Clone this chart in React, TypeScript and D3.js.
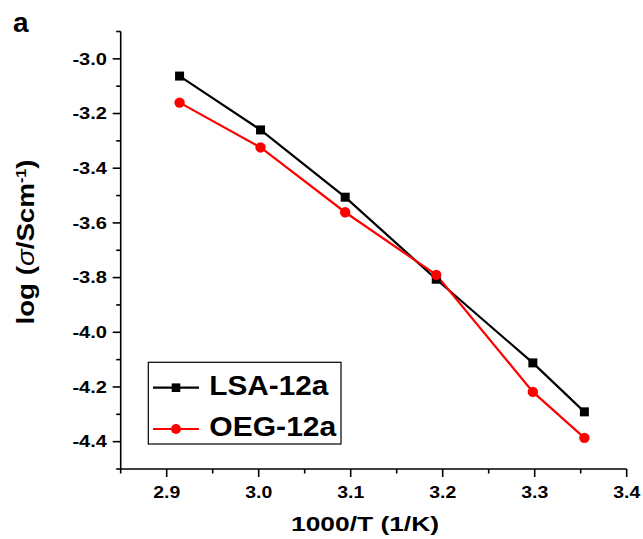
import React from "react";
import * as d3 from "d3";

const invT = [2.914, 3.002, 3.094, 3.193, 3.298, 3.354];
const lsa = [-3.063, -3.26, -3.506, -3.806, -4.112, -4.291];
const oeg = [-3.16, -3.324, -3.561, -3.79, -4.218, -4.386];
const xMajor = [2.9, 3.0, 3.1, 3.2, 3.3, 3.4];
const xMinor = [2.85, 2.95, 3.05, 3.15, 3.25, 3.35];
const yMajor = [-3.0, -3.2, -3.4, -3.6, -3.8, -4.0, -4.2, -4.4];
const yMinor = [-2.9, -3.1, -3.3, -3.5, -3.7, -3.9, -4.1, -4.3, -4.5];
const seriesNames = ["LSA-12a", "OEG-12a"];

const FONT = "'Liberation Sans', Arial, Helvetica, sans-serif";

export default function App() {
  const W = 643, H = 539;
  const x = d3.scaleLinear().domain([2.85, 3.4]).range([120.7, 626.7]);
  const y = d3.scaleLinear().domain([-4.5, -2.9]).range([469, 31.5]);
  const line = d3
    .line<[number, number]>()
    .x((d) => x(d[0]))
    .y((d) => y(d[1]));
  const lsaPts: [number, number][] = invT.map((t, i) => [t, lsa[i]]);
  const oegPts: [number, number][] = invT.map((t, i) => [t, oeg[i]]);
  const x0 = x(2.85);
  const yB = y(-4.5);

  return (
    <svg
      width={W}
      height={H}
      style={{ position: "fixed", left: 0, top: 0, background: "#fff" }}
      fontFamily={FONT}
    >
      <rect x={0} y={0} width={W} height={H} fill="#fff" />
      {/* panel letter */}
      <text x={13} y={31.5} fontSize={28} fontWeight="bold" fill="#000">
        a
      </text>

      {/* axes */}
      <line x1={x0} x2={x0} y1={y(-2.9)} y2={yB} stroke="#000" strokeWidth={1.6} />
      <line x1={x0} x2={x(3.4)} y1={yB} y2={yB} stroke="#000" strokeWidth={1.6} />
      {yMajor.map((v) => (
        <g key={"ym" + v}>
          <line x1={x0 - 8} x2={x0} y1={y(v)} y2={y(v)} stroke="#000" strokeWidth={1.6} />
          <text
            x={107}
            y={y(v) + 5.7}
            textAnchor="end"
            fontSize={16}
            fontWeight="bold"
            textLength={34.6}
            lengthAdjust="spacingAndGlyphs"
          >
            {d3.format(".1f")(v).replace("−", "-")}
          </text>
        </g>
      ))}
      {yMinor.map((v) => (
        <line key={"yn" + v} x1={x0 - 4.5} x2={x0} y1={y(v)} y2={y(v)} stroke="#000" strokeWidth={1.6} />
      ))}
      {xMajor.map((v) => (
        <g key={"xm" + v}>
          <line x1={x(v)} x2={x(v)} y1={yB} y2={yB + 8} stroke="#000" strokeWidth={1.6} />
          <text
            x={x(v)}
            y={498}
            textAnchor="middle"
            fontSize={16}
            fontWeight="bold"
            textLength={27}
            lengthAdjust="spacingAndGlyphs"
          >
            {d3.format(".1f")(v)}
          </text>
        </g>
      ))}
      {xMinor.map((v) => (
        <line key={"xn" + v} x1={x(v)} x2={x(v)} y1={yB} y2={yB + 4.5} stroke="#000" strokeWidth={1.6} />
      ))}

      {/* axis titles */}
      <text
        x={365}
        y={531}
        textAnchor="middle"
        fontSize={20}
        fontWeight="bold"
        textLength={148}
        lengthAdjust="spacingAndGlyphs"
      >
        1000/T (1/K)
      </text>
      <text
        transform={`translate(33.5, 242) rotate(-90)`}
        textAnchor="middle"
        fontSize={24}
        fontWeight="bold"
        textLength={165}
        lengthAdjust="spacingAndGlyphs"
      >
        <tspan>log (</tspan>
        <tspan fontStyle="italic" fontWeight="normal">σ</tspan>
        <tspan>/Scm</tspan>
        <tspan fontSize={14} baselineShift="super">-1</tspan>
        <tspan>)</tspan>
      </text>

      {/* series */}
      <path d={line(lsaPts) || ""} fill="none" stroke="#000" strokeWidth={2.2} />
      <path d={line(oegPts) || ""} fill="none" stroke="#ff0000" strokeWidth={2.2} />
      {lsaPts.map((p, i) => (
        <rect key={"s" + i} x={x(p[0]) - 4.5} y={y(p[1]) - 4.5} width={9} height={9} fill="#000" />
      ))}
      {oegPts.map((p, i) => (
        <circle key={"c" + i} cx={x(p[0])} cy={y(p[1])} r={5.2} fill="#ff0000" />
      ))}

      {/* legend */}
      <rect x={148.3} y={362.3} width={192.7} height={81.7} fill="#fff" stroke="#000" strokeWidth={1.2} />
      <line x1={153} x2={199} y1={387.7} y2={387.7} stroke="#000" strokeWidth={2.2} />
      <rect x={176 - 4.3} y={387.7 - 4.3} width={8.6} height={8.6} fill="#000" />
      <text x={209.3} y={395} fontSize={28} fontWeight="bold" textLength={119} lengthAdjust="spacingAndGlyphs">
        {seriesNames[0]}
      </text>
      <line x1={153} x2={199} y1={429} y2={429} stroke="#ff0000" strokeWidth={2.2} />
      <circle cx={176} cy={429} r={5} fill="#ff0000" />
      <text x={209.3} y={436} fontSize={28} fontWeight="bold" textLength={127} lengthAdjust="spacingAndGlyphs">
        {seriesNames[1]}
      </text>
    </svg>
  );
}
